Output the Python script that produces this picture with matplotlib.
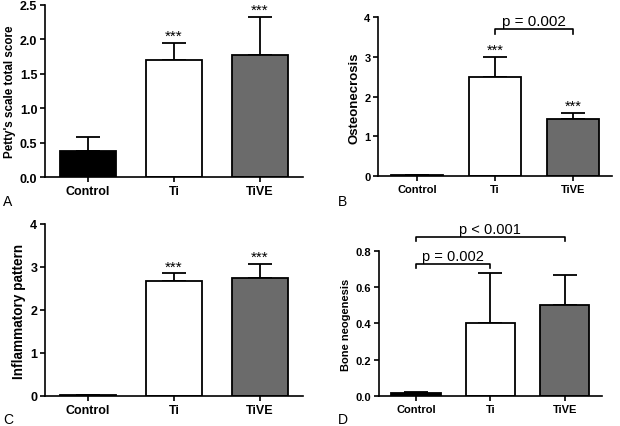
import matplotlib
matplotlib.use('Agg')
import matplotlib.pyplot as plt
import numpy as np

plt.rcParams['font.family'] = ['Liberation Sans', 'DejaVu Sans']

groups = ['Control', 'Ti', 'TiVE']
colors = ['black', 'white', '#6b6b6b']

# panel A: Petty's scale total score
petty_mean = [0.38, 1.70, 1.77]
petty_err = [0.20, 0.25, 0.56]
petty_stars = ['', '***', '***']

# panel B: osteonecrosis
osteo_mean = [0.02, 2.50, 1.45]
osteo_err = [0.0, 0.51, 0.15]
osteo_stars = ['', '***', '***']

# panel C: inflammatory pattern
inflam_mean = [0.02, 2.67, 2.75]
inflam_err = [0.0, 0.18, 0.32]
inflam_stars = ['', '***', '***']

# panel D: bone neogenesis
bone_mean = [0.015, 0.40, 0.50]
bone_err = [0.005, 0.28, 0.165]
bone_stars = ['', '', '']

fig = plt.figure(figsize=(6.2, 4.27), dpi=100)


def bar_panel(rect, means, errs, stars, ylabel, yticks, ylim, fs, tfs, lfs):
    ax = fig.add_axes(rect)
    x = np.arange(len(groups))
    ax.errorbar(x, means, yerr=[np.zeros(len(errs)), errs], fmt='none',
                ecolor='black', elinewidth=1.3, capsize=8.5, capthick=1.3, zorder=1)
    ax.bar(x, means, width=0.66, color=colors, edgecolor='black', linewidth=1.3, zorder=2)
    for xi, m, e, s in zip(x, means, errs, stars):
        if s:
            ax.annotate(s, (xi, m + e), xytext=(0, 0), textcoords='offset points',
                        ha='center', va='bottom', fontsize=tfs)
    ax.set_xlim(-0.5, 2.5)
    ax.set_ylim(*ylim)
    ax.set_yticks(yticks)
    ax.set_xticks(x)
    ax.set_xticklabels(groups, fontweight='bold', fontsize=fs)
    for lbl in ax.get_yticklabels():
        lbl.set_fontweight('bold')
        lbl.set_fontsize(fs)
    ax.set_ylabel(ylabel, fontweight='bold', fontsize=lfs, labelpad=3)
    for side in ['top', 'right']:
        ax.spines[side].set_visible(False)
    for side in ['left', 'bottom']:
        ax.spines[side].set_linewidth(1.2)
    ax.tick_params(width=1.2, length=3.5, pad=2)
    return ax


def bracket(ax, x1, x2, y, h, text, fs):
    ax.plot([x1, x1, x2, x2], [y - h, y, y, y - h], color='black', lw=1.2, clip_on=False)
    ax.text((x1 + x2) / 2, y + h * 0.2, text, ha='center', va='bottom', fontsize=fs)


axA = bar_panel([0.0726, 0.583, 0.416, 0.403], petty_mean, petty_err, petty_stars,
                "Petty's scale total score", [0, 0.5, 1.0, 1.5, 2.0, 2.5], (0, 2.5),
                9, 11, 8.4)
axA.set_yticklabels(['0.0', '0.5', '1.0', '1.5', '2.0', '2.5'])

axB = bar_panel([0.610, 0.585, 0.377, 0.372], osteo_mean, osteo_err, osteo_stars,
                'Osteonecrosis', [0, 1, 2, 3, 4], (0, 4), 8, 10.5, 9.5)
bracket(axB, 1, 2, 3.70, 0.12, 'p = 0.002', 11)

axC = bar_panel([0.0726, 0.0703, 0.416, 0.403], inflam_mean, inflam_err, inflam_stars,
                'Inflammatory pattern', [0, 1, 2, 3, 4], (0, 4), 9, 11, 9.8)

axD = bar_panel([0.611, 0.0703, 0.360, 0.340], bone_mean, bone_err, bone_stars,
                'Bone neogenesis', [0, 0.2, 0.4, 0.6, 0.8], (0, 0.8), 8, 10.5, 8)
axD.set_yticklabels(['0.0', '0.2', '0.4', '0.6', '0.8'])
bracket(axD, 0, 1, 0.728, 0.022, 'p = 0.002', 10.5)
bracket(axD, 0, 2, 0.877, 0.022, 'p < 0.001', 10.5)

for lab, (fx, fy) in zip('ABCD', [(0.005, 0.51), (0.545, 0.51), (0.005, 0.0), (0.545, 0.0)]):
    fig.text(fx, fy, lab, fontsize=10, ha='left', va='bottom')

fig.savefig('out.png', dpi=100)
